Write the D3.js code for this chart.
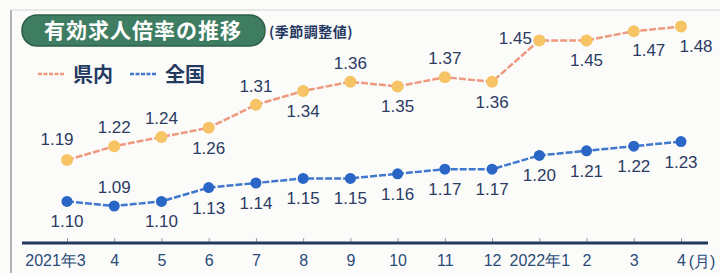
<!DOCTYPE html>
<html>
<head>
<meta charset="utf-8">
<script src="https://cdn.jsdelivr.net/npm/d3@7"></script>
<style>
  body { margin: 0; background: #fbfbfa; }
  svg { display: block; font-family: "Liberation Sans Narrow", "Liberation Sans", sans-serif; }
  .lbl { fill: #2c3c62; font-size: 17px; }
  .tick-lbl { fill: #2a4a78; font-size: 16px; }
</style>
</head>
<body>
<div id="chart"></div>
<script>
/**
 * DATA
 **/
const months = ["2021年3", "4", "5", "6", "7", "8", "9", "10", "11", "12", "2022年1", "2", "3", "4"];
const prefValues = [1.19, 1.22, 1.24, 1.26, 1.31, 1.34, 1.36, 1.35, 1.37, 1.36, 1.45, 1.45, 1.47, 1.48];
const natValues  = [1.10, 1.09, 1.10, 1.13, 1.14, 1.15, 1.15, 1.16, 1.17, 1.17, 1.20, 1.21, 1.22, 1.23];
// label placement: a = above, b = below, l = left, ul = upper left, br = below right
const prefLabelPos = ["ul", "a", "a", "b", "a", "b", "a", "b", "a", "b", "l", "b", "br", "br"];
const natLabelPos  = ["b", "a", "b", "b", "b", "b", "b", "b", "b", "b", "b", "b", "b", "b"];
const seriesNames = ["県内", "全国"];

/**
 * CONSTANTS
 **/
const width = 720, height = 273,
  prefLine = "#ee9a80", prefDot = "#f6c464",
  natLine = "#3f78cc", natDot = "#2a66c6",
  navy = "#24395f";

const svg = d3.select("#chart").append("svg")
  .attr("width", width)
  .attr("height", height);

// scan frame
svg.append("line").attr("x1", 11).attr("x2", 11).attr("y1", 10).attr("y2", height)
  .attr("stroke", "#9a9a9a").attr("stroke-width", 1.5);
svg.append("line").attr("x1", 11).attr("x2", width).attr("y1", 10).attr("y2", 10)
  .attr("stroke", "#d4d4d4").attr("stroke-width", 1);

// SCALES (index based, month labels repeat)
const idx = d3.range(months.length);
const xScale = d3.scalePoint()
  .domain(idx)
  .range([67, 681]);

const yScale = d3.scaleLinear()
  .domain([1.0, 1.5])
  .range([247.4, 17.4]);

// AXIS
const xAxis = d3.axisBottom(xScale).tickSize(0).tickPadding(12).tickFormat(i => months[i]);
const axisG = svg.append("g")
  .attr("transform", "translate(0,243)")
  .call(xAxis);
axisG.select(".domain").remove();
axisG.selectAll("text").attr("class", "tick-lbl").attr("font-size", null).attr("font-family", null)
  .attr("dx", i => i === 0 ? -12 : 0);
axisG.selectAll(".tick").append("line")
  .attr("y1", 0).attr("y2", -5)
  .attr("stroke", "#8a9ab0").attr("stroke-width", 1);
svg.append("line")
  .attr("x1", 22).attr("x2", 708).attr("y1", 243).attr("y2", 243)
  .attr("stroke", "#23395c").attr("stroke-width", 3);
svg.append("text").attr("class", "tick-lbl")
  .attr("x", 702).attr("y", 267).attr("text-anchor", "middle")
  .text("(月)");

// TITLE
svg.append("rect")
  .attr("x", 22).attr("y", 15).attr("width", 243).attr("height", 31)
  .attr("rx", 15).attr("fill", "#3f7d62").attr("stroke", "#2e5e48").attr("stroke-width", 1.5);
svg.append("text")
  .attr("x", 143).attr("y", 38).attr("text-anchor", "middle")
  .attr("font-family", "Noto Sans CJK JP").attr("font-weight", "bold")
  .attr("font-size", 21).attr("fill", "#ffffff").attr("letter-spacing", 1)
  .text("有効求人倍率の推移");
svg.append("text")
  .attr("x", 269).attr("y", 37)
  .attr("font-family", "Noto Sans CJK JP").attr("font-weight", "bold")
  .attr("font-size", 14).attr("fill", navy).attr("letter-spacing", 0.5)
  .text("(季節調整値)");

// LEGEND
const legend = [
  { name: seriesNames[0], color: prefLine, x: 38 },
  { name: seriesNames[1], color: natLine, x: 130 }
];
legend.forEach(l => {
  svg.append("line")
    .attr("x1", l.x).attr("x2", l.x + 26).attr("y1", 74).attr("y2", 74)
    .attr("stroke", l.color).attr("stroke-width", 2.5).attr("stroke-dasharray", "4,1.5");
  svg.append("text")
    .attr("x", l.x + 35).attr("y", 82)
    .attr("font-family", "Noto Sans CJK JP").attr("font-weight", "bold")
    .attr("font-size", 20).attr("fill", navy)
    .text(l.name);
});

// LINES + DOTS
const series = [
  { values: prefValues, pos: prefLabelPos, line: prefLine, dot: prefDot, r: 6 },
  { values: natValues, pos: natLabelPos, line: natLine, dot: natDot, r: 5.5 }
];

const lineFunc = d3.line()
  .x((d, i) => xScale(i))
  .y(d => yScale(d));

const offsets = {
  a: [0, -13],
  b: [0, 26],
  ul: [-10, -15],
  l: [-24, 4],
  br: [15, 25]
};

series.forEach(s => {
  svg.append("path")
    .datum(s.values)
    .attr("d", lineFunc)
    .attr("fill", "none")
    .attr("stroke", s.line)
    .attr("stroke-width", 2.5)
    .attr("stroke-dasharray", "7,2");

  svg.selectAll(null)
    .data(s.values)
    .join("circle")
    .attr("cx", (d, i) => xScale(i))
    .attr("cy", d => yScale(d))
    .attr("r", s.r)
    .attr("fill", s.dot);

  svg.selectAll(null)
    .data(s.values)
    .join("text")
    .attr("class", "lbl")
    .attr("x", (d, i) => xScale(i) + offsets[s.pos[i]][0])
    .attr("y", (d, i) => yScale(d) + offsets[s.pos[i]][1])
    .attr("text-anchor", "middle")
    .text(d => d.toFixed(2));
});
</script>
</body>
</html>
